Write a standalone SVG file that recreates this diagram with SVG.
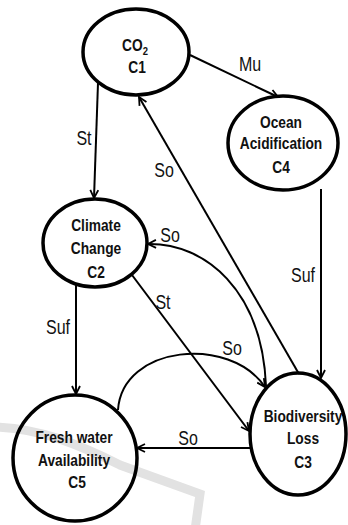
<svg xmlns="http://www.w3.org/2000/svg" width="348" height="525" viewBox="0 0 348 525">
<style>
.node{fill:none;stroke:#000;stroke-width:3.5}
.edge{fill:none;stroke:#000;stroke-width:2;marker-end:url(#arr)}
.nt{font-family:"Liberation Sans",Arial,sans-serif;font-weight:bold;font-size:16px;text-anchor:middle;fill:#111}
.lbl{font-family:"Liberation Sans",Arial,sans-serif;font-size:20px;text-anchor:middle;fill:#111}
</style>
<defs>
<marker id="arr" viewBox="0 0 10 10" refX="9" refY="5" markerWidth="10" markerHeight="10" markerUnits="userSpaceOnUse" orient="auto">
<path d="M1,1 L9,5 L1,9" fill="none" stroke="#000" stroke-width="1.8"/>
</marker>
</defs>
<rect width="348" height="525" fill="#fff"/>
<path d="M-5,427 C40,428 80,445 120,465 L200,494 L195,530" fill="none" stroke="#e2e2e2" stroke-width="9"/>
<g id="connectors">
<line class="edge" x1="190" y1="55" x2="278" y2="97"/>
<line class="edge" x1="98" y1="83" x2="94" y2="198"/>
<line class="edge" x1="299" y1="374" x2="139" y2="97"/>
<line class="edge" x1="321" y1="189" x2="321" y2="378"/>
<line class="edge" x1="132" y1="275" x2="249" y2="431"/>
<path class="edge" d="M266,386 C262,290 205,243 148,244"/>
<path class="edge" d="M118,410 C122,345 230,335 265,387"/>
<line class="edge" x1="250" y1="448" x2="137" y2="448"/>
<line class="edge" x1="76" y1="284" x2="76" y2="394"/>
<text class="lbl" transform="translate(250,71) scale(0.8,1)">Mu</text>
<text class="lbl" transform="translate(84,145) scale(0.8,1)">St</text>
<text class="lbl" transform="translate(164,177) scale(0.8,1)">So</text>
<text class="lbl" transform="translate(303,282) scale(0.8,1)">Suf</text>
<text class="lbl" transform="translate(170,242) scale(0.8,1)">So</text>
<text class="lbl" transform="translate(163,309) scale(0.8,1)">St</text>
<text class="lbl" transform="translate(58,334) scale(0.8,1)">Suf</text>
<text class="lbl" transform="translate(232,355) scale(0.8,1)">So</text>
<text class="lbl" transform="translate(188,445) scale(0.8,1)">So</text>
</g>
<g id="C1">
<ellipse class="node" cx="136" cy="52" rx="53" ry="43"/>
<text class="nt" transform="translate(135,51) scale(0.86,1)">CO<tspan font-size="11" dy="4">2</tspan></text>
<text class="nt" transform="translate(137,73) scale(0.86,1)">C1</text>
</g>
<g id="C4">
<ellipse class="node" cx="283" cy="143" rx="55" ry="47"/>
<text class="nt" transform="translate(281,128) scale(0.86,1)">Ocean</text>
<text class="nt" transform="translate(281,149) scale(0.86,1)">Acidification</text>
<text class="nt" transform="translate(281,173) scale(0.86,1)">C4</text>
</g>
<g id="C2">
<ellipse class="node" cx="95" cy="243" rx="52" ry="44"/>
<text class="nt" transform="translate(96,231) scale(0.86,1)">Climate</text>
<text class="nt" transform="translate(96,254) scale(0.86,1)">Change</text>
<text class="nt" transform="translate(96,278) scale(0.86,1)">C2</text>
</g>
<g id="C3">
<ellipse class="node" cx="298" cy="434" rx="48" ry="61"/>
<text class="nt" transform="translate(303,422) scale(0.86,1)">Biodiversity</text>
<text class="nt" transform="translate(303,444) scale(0.86,1)">Loss</text>
<text class="nt" transform="translate(303,468) scale(0.86,1)">C3</text>
</g>
<g id="C5">
<ellipse class="node" cx="75" cy="458" rx="62" ry="63"/>
<text class="nt" transform="translate(74,443) scale(0.86,1)">Fresh water</text>
<text class="nt" transform="translate(74,466) scale(0.86,1)">Availability</text>
<text class="nt" transform="translate(77,488) scale(0.86,1)">C5</text>
</g>
</svg>
